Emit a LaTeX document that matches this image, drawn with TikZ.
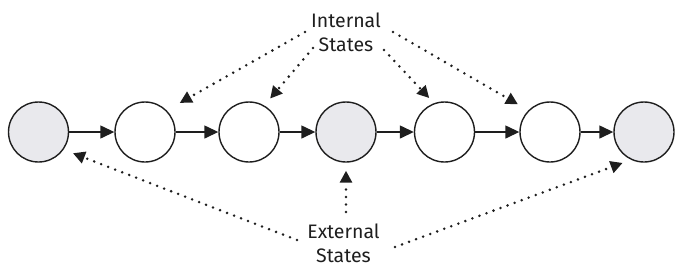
\documentclass[tikz,border=0pt]{standalone}
\usepackage{fontspec}
\setmainfont{Fira Sans}
\usetikzlibrary{arrows.meta,calc,positioning}
\definecolor{ExtFill}{HTML}{E9E9ED}
\definecolor{Ink}{HTML}{1E1E1E}
\tikzset{
  state/.style={circle, draw=Ink, line width=1.4pt, fill=white,
                minimum size=60pt, inner sep=0pt},
  extstate/.style={state, fill=ExtFill},
  flowarrow/.style={line width=1.4pt, draw=Ink,
                -{Triangle[length=14pt, width=13pt]}},
  notearrow/.style={line width=2.8pt, draw=Ink, line cap=round,
                dash pattern=on 0pt off 7.5pt,
                -{Triangle[length=12pt, width=12pt]}},
  note/.style={font=\fontsize{19.5}{24}\selectfont, text=Ink, align=center, inner sep=0pt},
}
\begin{document}
\begin{tikzpicture}[x=1pt, y=-1pt]
\useasboundingbox (0,0) rectangle (680,277);
% chain of states
\node[extstate] (s1) at (38.5,132) {};
\node[state]    (s2) at (145,132) {};
\node[state]    (s3) at (249,132) {};
\node[extstate] (s4) at (346,132) {};
\node[state]    (s5) at (444.5,132) {};
\node[state]    (s6) at (550,132) {};
\node[extstate] (s7) at (644,132) {};
\foreach \a/\b in {s1/s2,s2/s3,s3/s4,s4/s5,s5/s6,s6/s7}
  \draw[flowarrow] (\a.east) -- (\b.west);
% labels
\node[note] (internal) at (346,32) {Internal\\States};
\node[note] (external) at (343.5,243) {External\\States};
% free ends of the dotted arrows
\coordinate (in1) at (305,32);
\coordinate (in2) at (313,48);
\coordinate (in3) at (384,50);
\coordinate (in4) at (393,32);
\coordinate (ex1) at (297,240);
\coordinate (ex2) at (346,212);
\coordinate (ex3) at (395,247);
\draw[notearrow, shorten >=15pt] (in1) -- (s2.45);
\draw[notearrow, shorten >=9pt]  (in2) -- (s3.60);
\draw[notearrow, shorten >=7pt]  (in3) -- (s5.110);
\draw[notearrow, shorten >=12pt] (in4) -- (s6.135);
\draw[notearrow, shorten >=10pt] (ex1) -- (s1.-35);
\draw[notearrow, shorten >=8pt]  (ex2) -- (s4.south);
\draw[notearrow, shorten >=9pt]  (ex3) -- (s7.-115);
\end{tikzpicture}
\end{document}
